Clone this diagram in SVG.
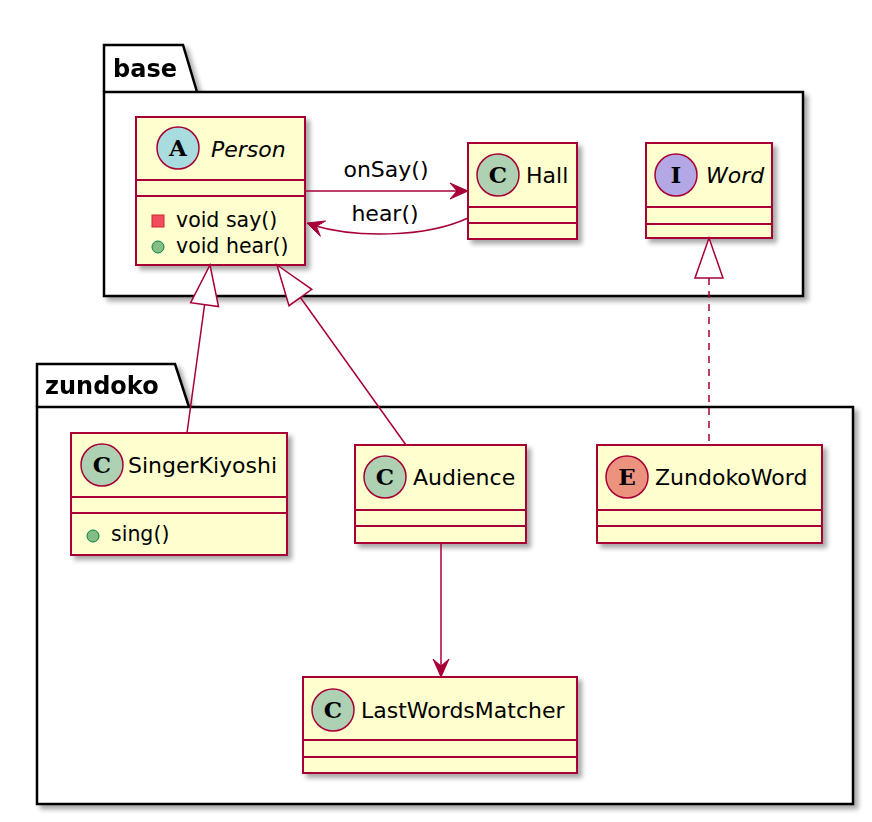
<svg xmlns="http://www.w3.org/2000/svg" width="872" height="822" viewBox="0 0 872 822">
<defs>
<filter id="sh" x="-10%" y="-10%" width="130%" height="130%">
<feGaussianBlur in="SourceAlpha" stdDeviation="2.5"/>
<feOffset dx="4" dy="4" result="b"/>
<feComponentTransfer><feFuncA type="linear" slope="0.35"/></feComponentTransfer>
<feMerge><feMergeNode/><feMergeNode in="SourceGraphic"/></feMerge>
</filter>
</defs>
<style>
.pkg{fill:#fff;stroke:#000;stroke-width:2.5}
.pkt{font-family:"DejaVu Sans",sans-serif;font-weight:bold;font-size:24px;fill:#000}
.box{fill:#FEFECE;stroke:#A80036;stroke-width:2}
.div{stroke:#A80036;stroke-width:2}
.cn{font-family:"DejaVu Sans",sans-serif;font-size:22px;fill:#000}
.it{font-style:italic}
.mt{font-family:"DejaVu Sans",sans-serif;font-size:20.5px;fill:#000}
.ic{stroke:#A80036;stroke-width:1.5}
.il{font-family:"DejaVu Serif",serif;font-weight:bold;font-size:23px;fill:#000;text-anchor:middle}
.ln{fill:none;stroke:#A80036;stroke-width:1.5}
.ah{fill:#A80036;stroke:#A80036;stroke-width:1}
.tri{fill:#fff;stroke:#A80036;stroke-width:1.5}
.lb{font-family:"DejaVu Sans",sans-serif;font-size:22px;fill:#000;text-anchor:middle}
</style>
<rect width="872" height="822" fill="#fff"/>

<g id="pkg-base" filter="url(#sh)">
<path class="pkg" d="M104,92 L104,45 L183,45 L197,92"/>
<rect class="pkg" x="104" y="92" width="699" height="204"/>
<text class="pkt" x="113" y="77">base</text>
</g>
<g id="pkg-zundoko" filter="url(#sh)">
<path class="pkg" d="M37,407 L37,364 L175,364 L189,407"/>
<rect class="pkg" x="37" y="407" width="816" height="397"/>
<text class="pkt" x="45" y="394">zundoko</text>
</g>

<g id="Person">
<rect class="box" x="136" y="117" width="169" height="148" filter="url(#sh)"/>
<line class="div" x1="136" y1="180" x2="305" y2="180"/>
<line class="div" x1="136" y1="196" x2="305" y2="196"/>
<circle class="ic" cx="178" cy="148" r="21" fill="#A9DCDF"/>
<text class="il" x="178" y="156">A</text>
<text class="cn it" x="211" y="157">Person</text>
<rect x="152" y="215" width="12" height="12" fill="#F24D5C" stroke="#C82930" stroke-width="1"/>
<text class="mt" x="176" y="227">void say()</text>
<circle cx="158" cy="247" r="6" fill="#84BE84" stroke="#038048" stroke-width="1"/>
<text class="mt" x="176" y="253">void hear()</text>
</g>

<g id="Hall">
<rect class="box" x="468" y="143" width="109" height="96" filter="url(#sh)"/>
<line class="div" x1="468" y1="207" x2="577" y2="207"/>
<line class="div" x1="468" y1="223" x2="577" y2="223"/>
<circle class="ic" cx="498" cy="175" r="21" fill="#ADD1B2"/>
<text class="il" x="498" y="183">C</text>
<text class="cn" x="526" y="183">Hall</text>
</g>

<g id="Word">
<rect class="box" x="646" y="143" width="126" height="95" filter="url(#sh)"/>
<line class="div" x1="646" y1="207" x2="772" y2="207"/>
<line class="div" x1="646" y1="224" x2="772" y2="224"/>
<circle class="ic" cx="676" cy="175" r="21" fill="#B4A7E5"/>
<text class="il" x="676" y="183">I</text>
<text class="cn it" x="706" y="183">Word</text>
</g>

<g id="SingerKiyoshi">
<rect class="box" x="71" y="433" width="216" height="122" filter="url(#sh)"/>
<line class="div" x1="71" y1="497" x2="287" y2="497"/>
<line class="div" x1="71" y1="513" x2="287" y2="513"/>
<circle class="ic" cx="102" cy="465" r="21" fill="#ADD1B2"/>
<text class="il" x="102" y="473">C</text>
<text class="cn" x="128" y="473">SingerKiyoshi</text>
<circle cx="93" cy="536" r="6" fill="#84BE84" stroke="#038048" stroke-width="1"/>
<text class="mt" x="111" y="541">sing()</text>
</g>

<g id="Audience">
<rect class="box" x="355" y="445" width="171" height="98" filter="url(#sh)"/>
<line class="div" x1="355" y1="510" x2="526" y2="510"/>
<line class="div" x1="355" y1="526" x2="526" y2="526"/>
<circle class="ic" cx="385" cy="477" r="21" fill="#ADD1B2"/>
<text class="il" x="385" y="485">C</text>
<text class="cn" x="413" y="485">Audience</text>
</g>

<g id="ZundokoWord">
<rect class="box" x="597" y="445" width="225" height="98" filter="url(#sh)"/>
<line class="div" x1="597" y1="510" x2="822" y2="510"/>
<line class="div" x1="597" y1="526" x2="822" y2="526"/>
<circle class="ic" cx="627" cy="477" r="21" fill="#EB937F"/>
<text class="il" x="627" y="485">E</text>
<text class="cn" x="655" y="485">ZundokoWord</text>
</g>

<g id="LastWordsMatcher">
<rect class="box" x="303" y="677" width="274" height="96" filter="url(#sh)"/>
<line class="div" x1="303" y1="740" x2="577" y2="740"/>
<line class="div" x1="303" y1="757" x2="577" y2="757"/>
<circle class="ic" cx="333" cy="710" r="21" fill="#ADD1B2"/>
<text class="il" x="333" y="718">C</text>
<text class="cn" x="361" y="718">LastWordsMatcher</text>
</g>

<g id="connectors">
<line class="ln" x1="305" y1="191" x2="462" y2="191"/>
<path class="ah" d="M468,191 L450,183 L457,191 L450,199 Z"/>
<text class="lb" x="386" y="177">onSay()</text>

<path class="ln" d="M468,218 C425,238 355,238 312,225"/>
<path class="ah" d="M307,223 L320.4,236.2 L316.4,226.3 L325.6,221 Z"/>
<text class="lb" x="385" y="221">hear()</text>

<line class="ln" x1="204.6" y1="304.6" x2="187" y2="433"/>
<path class="tri" d="M210,265 L218.5,306.5 L190.7,302.7 Z"/>

<line class="ln" x1="300.4" y1="297.5" x2="406" y2="445"/>
<path class="tri" d="M277,265 L311.8,289.3 L289,305.7 Z"/>

<line class="ln" x1="709" y1="278" x2="709" y2="445" stroke-dasharray="7,6"/>
<path class="tri" d="M709,238 L723,278 L695,278 Z"/>

<line class="ln" x1="441" y1="543" x2="441" y2="671"/>
<path class="ah" d="M441,677 L433,659 L441,666 L449,659 Z"/>
</g>
</svg>
